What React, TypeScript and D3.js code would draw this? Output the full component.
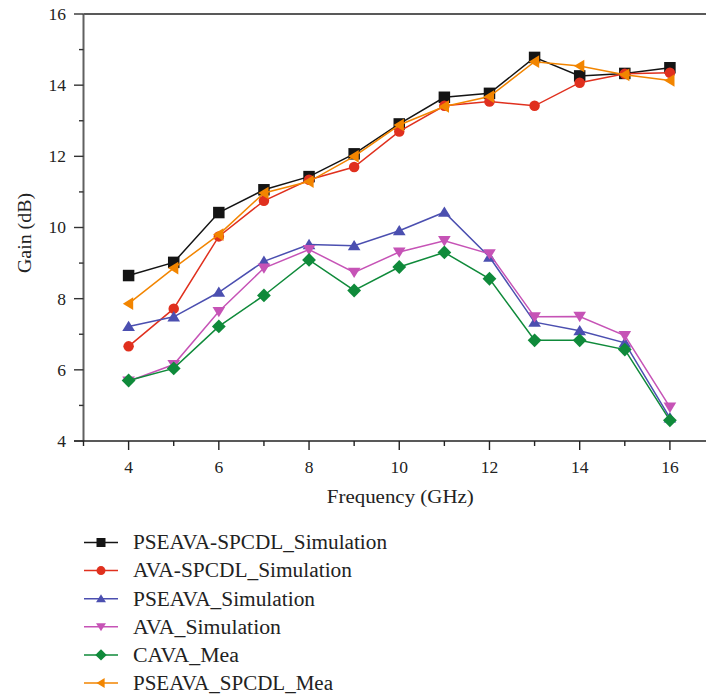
import * as d3 from "d3";

const freqs = [4, 5, 6, 7, 8, 9, 10, 11, 12, 13, 14, 15, 16];
const pseavaSpcdlSim = [8.65, 9.02, 10.42, 11.06, 11.43, 12.07, 12.91, 13.66, 13.77, 14.78, 14.26, 14.33, 14.49];
const avaSpcdlSim = [6.66, 7.72, 9.75, 10.75, 11.34, 11.7, 12.7, 13.42, 13.54, 13.42, 14.07, 14.32, 14.35];
const pseavaSim = [7.22, 7.49, 8.18, 9.05, 9.52, 9.49, 9.91, 10.43, 9.17, 7.34, 7.1, 6.76, 4.65];
const avaSim = [5.68, 6.15, 7.64, 8.86, 9.38, 8.74, 9.31, 9.63, 9.26, 7.49, 7.5, 6.96, 4.95];
const cavaMea = [5.7, 6.04, 7.22, 8.09, 9.09, 8.23, 8.89, 9.3, 8.56, 6.83, 6.83, 6.57, 4.58];
const pseavaSpcdlMea = [7.86, 8.86, 9.8, 10.97, 11.29, 12.0, 12.88, 13.4, 13.68, 14.66, 14.54, 14.29, 14.13];

const xTicks = [4, 6, 8, 10, 12, 14, 16];
const xMinor = [3, 5, 7, 9, 11, 13, 15];
const yTicks = [4, 6, 8, 10, 12, 14, 16];
const yMinor = [5, 7, 9, 11, 13, 15];

const series = [
  { name: "PSEAVA-SPCDL_Simulation", values: pseavaSpcdlSim, color: "#141414", shape: "square", tl: 254 },
  { name: "AVA-SPCDL_Simulation", values: avaSpcdlSim, color: "#e0301e", shape: "circle", tl: 219 },
  { name: "PSEAVA_Simulation", values: pseavaSim, color: "#4b4fb0", shape: "up", tl: 182 },
  { name: "AVA_Simulation", values: avaSim, color: "#c653b6", shape: "down", tl: 148 },
  { name: "CAVA_Mea", values: cavaMea, color: "#0f8a3a", shape: "diamond", tl: 106 },
  { name: "PSEAVA_SPCDL_Mea", values: pseavaSpcdlMea, color: "#f28500", shape: "left", tl: 200 },
];

const font = "Liberation Serif, DejaVu Serif, serif";

function markerPath(shape: string, s: number) {
  const h = s / 2;
  switch (shape) {
    case "square":
      return `M${-h},${-h}H${h}V${h}H${-h}Z`;
    case "up":
      return `M0,${-h}L${h * 1.1},${h * 0.8}L${-h * 1.1},${h * 0.8}Z`;
    case "down":
      return `M0,${h}L${h * 1.1},${-h * 0.8}L${-h * 1.1},${-h * 0.8}Z`;
    case "left":
      return `M${-h},0L${h * 0.8},${-h * 1.1}L${h * 0.8},${h * 1.1}Z`;
    case "diamond":
      return `M0,${-h * 1.2}L${h * 1.2},0L0,${h * 1.2}L${-h * 1.2},0Z`;
    default:
      return "";
  }
}

function Marker({ shape, color, x, y, s }: { shape: string; color: string; x: number; y: number; s: number }) {
  if (shape === "circle") return <circle cx={x} cy={y} r={s / 2} fill={color} />;
  return <path d={markerPath(shape, s)} transform={`translate(${x},${y})`} fill={color} />;
}

export default function App() {
  const width = 706;
  const height = 697;
  const x = d3.scaleLinear().domain([3, 16.8]).range([83.5, 706]);
  const y = d3.scaleLinear().domain([4, 16]).range([441, 14]);
  const line = d3.line<number>().x((d, i) => x(freqs[i])).y((d) => y(d));
  const txt = { fontFamily: font };

  return (
    <svg width={width} height={height} style={{ position: "absolute", left: 0, top: 0, background: "#fff" }}>
      {/* frame */}
      <line x1={83.5} x2={706} y1={14} y2={14} stroke="#222" strokeWidth={1.6} />
      <line x1={83.5} x2={83.5} y1={14} y2={441} stroke="#606060" strokeWidth={2} />
      <line x1={74} x2={706} y1={441} y2={441} stroke="#222" strokeWidth={1.6} />

      {/* y ticks */}
      {yTicks.map((t) => (
        <g key={"y" + t}>
          <line x1={74} x2={83.5} y1={y(t)} y2={y(t)} stroke="#333" strokeWidth={1.4} />
          <text x={66} y={y(t)} dy="0.34em" textAnchor="end" fontSize={17.5} fill="#222" style={txt}>
            {t}
          </text>
        </g>
      ))}
      {yMinor.map((t) => (
        <line key={"ym" + t} x1={79} x2={83.5} y1={y(t)} y2={y(t)} stroke="#333" strokeWidth={1.4} />
      ))}

      {/* x ticks */}
      {xTicks.map((t) => (
        <g key={"x" + t}>
          <line x1={x(t)} x2={x(t)} y1={441} y2={450} stroke="#222" strokeWidth={1.4} />
          <text x={x(t)} y={472.5} textAnchor="middle" fontSize={17.5} fill="#222" style={txt}>
            {t}
          </text>
        </g>
      ))}
      {xMinor.map((t) => (
        <line key={"xm" + t} x1={x(t)} x2={x(t)} y1={441} y2={446} stroke="#222" strokeWidth={1.4} />
      ))}

      {/* axis titles */}
      <text x={400.3} y={503} textAnchor="middle" fontSize={19.5} fill="#222" style={txt} textLength={147} lengthAdjust="spacingAndGlyphs">
        Frequency (GHz)
      </text>
      <text
        transform={`translate(31,233) rotate(-90)`}
        textAnchor="middle"
        fontSize={19.5}
        fill="#222"
        style={txt}
        textLength={80}
        lengthAdjust="spacingAndGlyphs"
      >
        Gain (dB)
      </text>

      {/* series */}
      {series.map((s) => (
        <g key={s.name}>
          <path d={line(s.values) || ""} fill="none" stroke={s.color} strokeWidth={1.5} />
          {s.values.map((v, i) => (
            <Marker key={i} shape={s.shape} color={s.color} x={x(freqs[i])} y={y(v)} s={s.shape === "diamond" ? 11.5 : s.shape === "circle" ? 10.5 : 11.5} />
          ))}
        </g>
      ))}

      {/* legend */}
      {series.map((s, i) => {
        const ly = 542.5 + i * 28.1;
        return (
          <g key={"lg" + s.name}>
            <line x1={84} x2={118} y1={ly} y2={ly} stroke={s.color} strokeWidth={1.5} />
            <Marker shape={s.shape} color={s.color} x={101} y={ly} s={s.shape === "diamond" ? 9.5 : 9} />
            <text x={133} y={ly} dy="0.34em" fontSize={20} fill="#222" style={txt} textLength={s.tl} lengthAdjust="spacingAndGlyphs">
              {s.name}
            </text>
          </g>
        );
      })}
    </svg>
  );
}
